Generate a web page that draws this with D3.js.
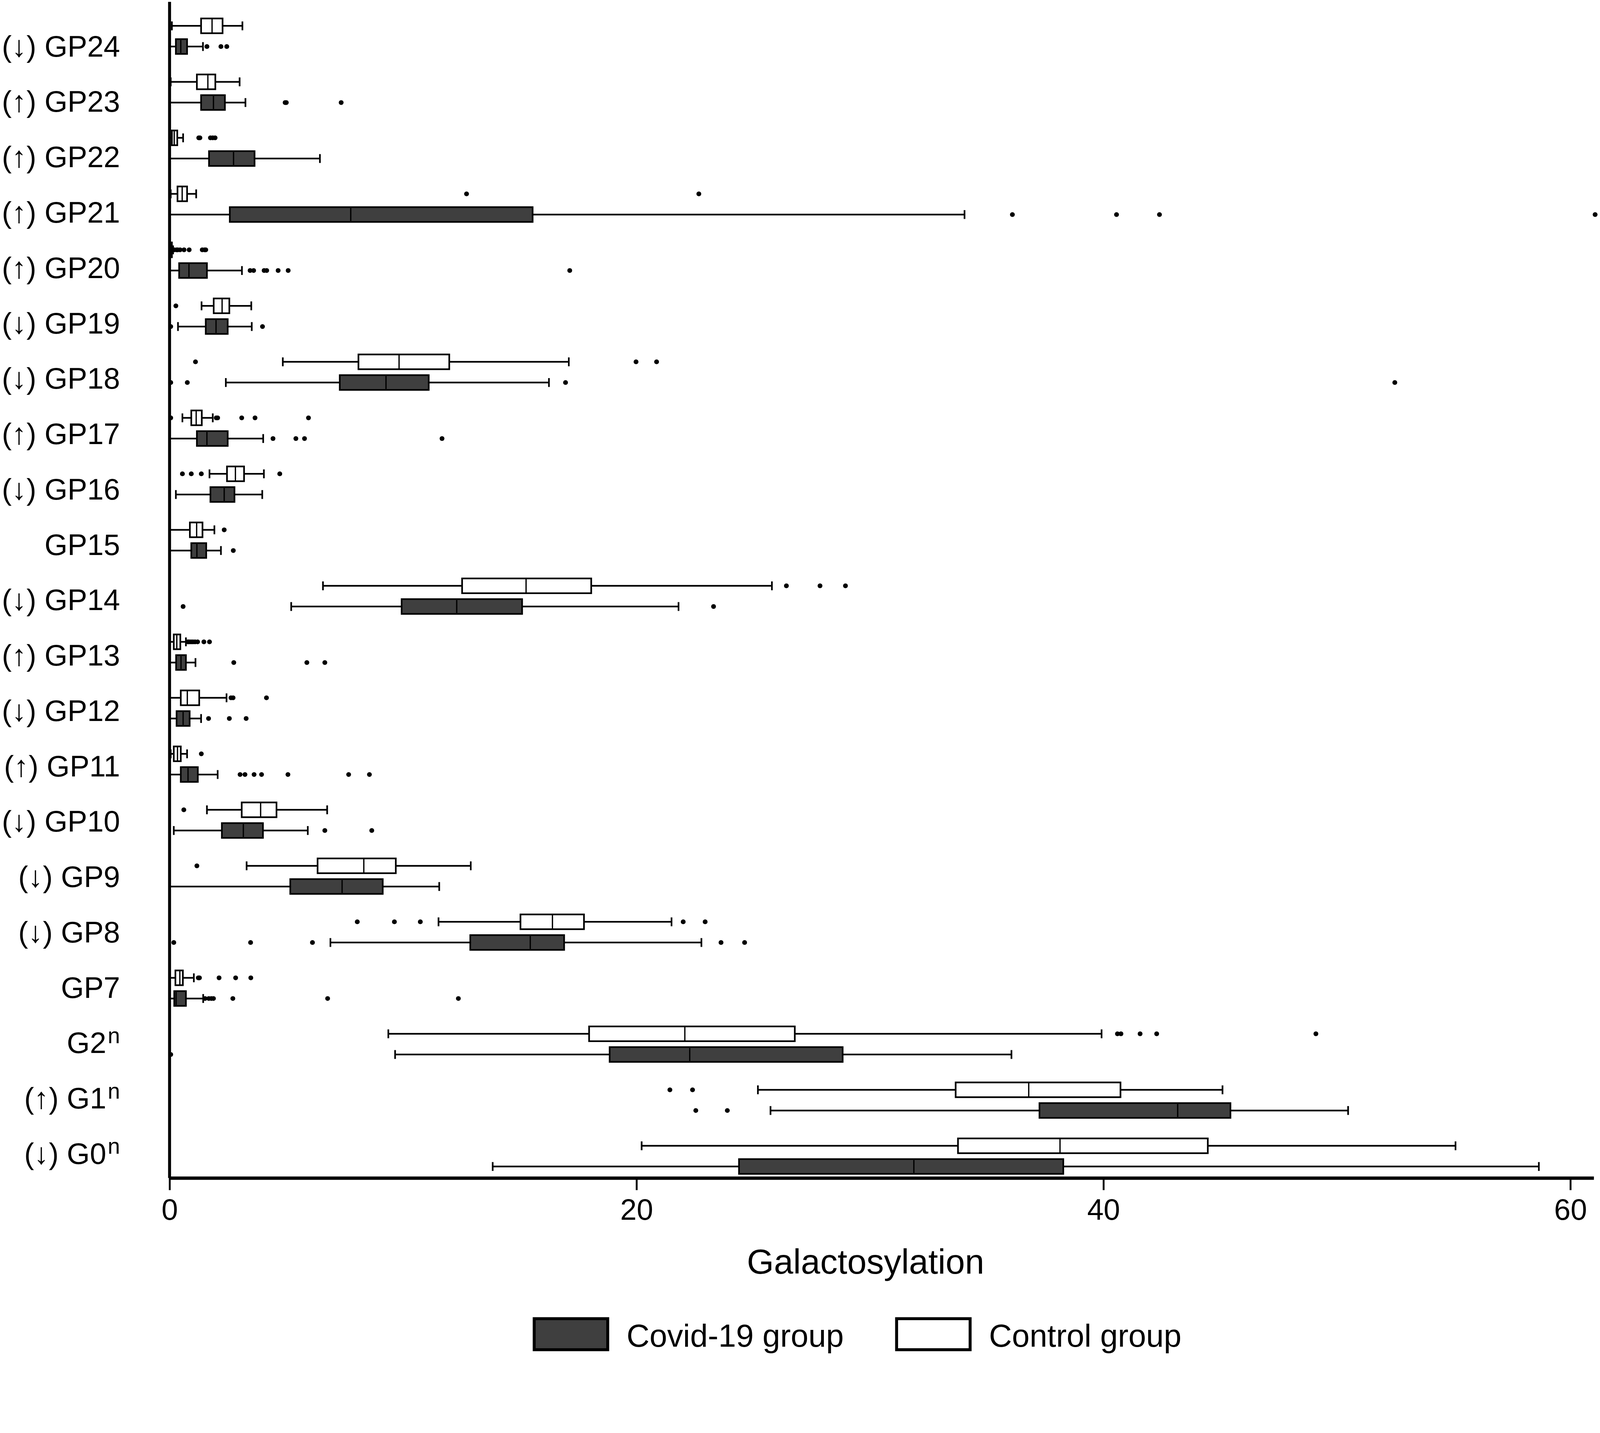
<!DOCTYPE html>
<html>
<head>
<meta charset="utf-8">
<script src="https://cdn.jsdelivr.net/npm/d3@7"></script>
<style>
  html, body { margin: 0; padding: 0; background: #fff; overflow: hidden; }
  text { font-family: "Liberation Sans", Arial, sans-serif; fill: #000; }
</style>
</head>
<body>
<div id="chart"></div>
<script>
// rows top to bottom
const categories = ["GP24","GP23","GP22","GP21","GP20","GP19","GP18","GP17","GP16","GP15","GP14",
  "GP13","GP12","GP11","GP10","GP9","GP8","GP7","G2n","G1n","G0n"];
const arrows = ["↓","↑","↑","↑","↑","↓","↓","↑","↓","","↓","↑","↓","↑","↓","↓","↓","","","↑","↓"];

// control group: lower whisker, q1, median, q3, upper whisker, outliers
const ctrlLo  = [0.1, 0.05, 0, 0.05, 0, 1.37, 4.85, 0.55, 1.71, 0, 6.57, 0, 0, 0.05, 1.6, 3.3, 11.52, 0, 9.37, 25.2, 20.22];
const ctrlQ1  = [1.35, 1.17, 0.1, 0.34, 0.02, 1.89, 8.09, 0.93, 2.46, 0.87, 12.53, 0.18, 0.48, 0.18, 3.09, 6.34, 15.03, 0.25, 17.97, 33.67, 33.77];
const ctrlMed = [1.82, 1.64, 0.2, 0.54, 0.05, 2.25, 9.83, 1.14, 2.82, 1.16, 15.27, 0.31, 0.76, 0.34, 3.9, 8.32, 16.4, 0.44, 22.07, 36.8, 38.14];
const ctrlQ3  = [2.27, 1.96, 0.33, 0.75, 0.1, 2.56, 11.98, 1.38, 3.19, 1.41, 18.06, 0.46, 1.27, 0.48, 4.58, 9.69, 17.75, 0.57, 26.78, 40.73, 44.47];
const ctrlHi  = [3.12, 3.0, 0.58, 1.14, 0.15, 3.5, 17.1, 1.85, 4.04, 1.92, 25.8, 0.7, 2.44, 0.75, 6.75, 12.9, 21.5, 1.04, 39.92, 45.1, 55.08];
const ctrlOut = [
  [], [], [1.25, 1.3, 1.75, 1.85, 1.95], [12.72, 22.67],
  [0.2, 0.3, 0.35, 0.45, 0.62, 0.84, 1.4, 1.5, 1.55], [0.27], [1.11, 19.98, 20.86],
  [0.05, 2.0, 2.06, 3.09, 3.66, 5.95], [0.55, 0.93, 1.36, 4.72], [2.34], [26.42, 27.86, 28.95],
  [0.78, 0.84, 0.92, 1.0, 1.09, 1.2, 1.47, 1.71], [2.63, 2.72, 4.15], [1.36], [0.61], [1.17],
  [8.04, 9.63, 10.74, 22.0, 22.94], [1.23, 1.28, 2.12, 2.83, 3.48],
  [40.6, 40.75, 41.57, 42.28, 49.1], [21.43, 22.4], []
];

// covid-19 group
const covLo  = [0, 0, 0, 0, 0, 0.36, 2.41, 0, 0.27, 0, 5.21, 0, 0, 0, 0.18, 0, 6.89, 0, 9.66, 25.74, 13.84];
const covQ1  = [0.27, 1.35, 1.69, 2.58, 0.41, 1.55, 7.29, 1.17, 1.75, 0.93, 9.94, 0.28, 0.3, 0.48, 2.24, 5.17, 12.88, 0.2, 18.85, 37.26, 24.39];
const covMed = [0.48, 1.88, 2.74, 7.76, 0.83, 1.99, 9.27, 1.6, 2.34, 1.17, 12.3, 0.49, 0.58, 0.79, 3.16, 7.39, 15.45, 0.28, 22.28, 43.18, 31.88];
const covQ3  = [0.75, 2.37, 3.64, 15.55, 1.6, 2.49, 11.1, 2.49, 2.78, 1.57, 15.1, 0.7, 0.86, 1.21, 4.0, 9.13, 16.9, 0.7, 28.83, 45.44, 38.28];
const covHi  = [1.43, 3.25, 6.44, 34.05, 3.1, 3.52, 16.25, 4.01, 3.97, 2.2, 21.8, 1.11, 1.35, 2.06, 5.92, 11.55, 22.78, 1.44, 36.06, 50.48, 58.65];
const covOut = [
  [1.6, 2.2, 2.45], [4.95, 5.0, 7.35], [], [36.1, 40.56, 42.4, 61.06],
  [3.45, 3.6, 4.05, 4.16, 4.65, 5.08, 17.14], [0.05, 3.98], [0.05, 0.76, 16.96, 52.48],
  [4.43, 5.41, 5.78, 11.67], [], [2.73], [0.58, 23.3],
  [2.75, 5.88, 6.65], [1.67, 2.56, 3.28], [3.02, 3.23, 3.62, 3.94, 5.07, 7.67, 8.56], [6.65, 8.66], [],
  [0.18, 3.47, 6.12, 23.62, 24.63], [1.52, 1.68, 1.79, 1.88, 2.71, 6.77, 12.37],
  [0.05], [22.54, 23.89], []
];

const xTicks = [0, 20, 40, 60];

const width = 4331, height = 3669;
const covFill = "#3f3f3f";

// viewBox so the whole figure always fits the window
const svg = d3.select("#chart").append("svg")
  .attr("viewBox", `0 0 ${width} ${height}`)
  .attr("preserveAspectRatio", "xMinYMin meet")
  .style("width", "100vw")
  .style("height", "100vh")
  .style("display", "block");

svg.append("rect").attr("width", width).attr("height", height).attr("fill", "#fff");

const x = d3.scaleLinear().domain([0, 61]).range([459, 4314]);
const rowY = d3.scalePoint().domain(categories).range([98, 3130]);
const labelY = d3.scalePoint().domain(categories).range([124, 3122]);
const boxH = 40, capH = 24, off = 28;

function series(lo, q1, med, q3, hi, out, dy, fill) {
  return categories.map((c, i) => ({
    cat: c, lo: lo[i], q1: q1[i], med: med[i], q3: q3[i], hi: hi[i], out: out[i],
    y: rowY(c) + dy, fill: fill
  }));
}

const rows = series(ctrlLo, ctrlQ1, ctrlMed, ctrlQ3, ctrlHi, ctrlOut, -off, "#fff")
  .concat(series(covLo, covQ1, covMed, covQ3, covHi, covOut, off, covFill));

const box = svg.append("g").selectAll("g.box").data(rows).join("g").attr("class", "box");

// whiskers with end caps
box.append("line")
  .attr("x1", d => x(d.lo)).attr("x2", d => x(d.hi))
  .attr("y1", d => d.y).attr("y2", d => d.y)
  .attr("stroke", "#000").attr("stroke-width", 4.5);
box.append("line")
  .attr("x1", d => x(d.lo)).attr("x2", d => x(d.lo))
  .attr("y1", d => d.y - capH / 2).attr("y2", d => d.y + capH / 2)
  .attr("stroke", "#000").attr("stroke-width", 4.5);
box.append("line")
  .attr("x1", d => x(d.hi)).attr("x2", d => x(d.hi))
  .attr("y1", d => d.y - capH / 2).attr("y2", d => d.y + capH / 2)
  .attr("stroke", "#000").attr("stroke-width", 4.5);

// boxes + median
box.append("rect")
  .attr("x", d => x(d.q1))
  .attr("y", d => d.y - boxH / 2)
  .attr("width", d => x(d.q3) - x(d.q1))
  .attr("height", boxH)
  .attr("fill", d => d.fill)
  .attr("stroke", "#000").attr("stroke-width", 4.5);
box.append("line")
  .attr("x1", d => x(d.med)).attr("x2", d => x(d.med))
  .attr("y1", d => d.y - boxH / 2).attr("y2", d => d.y + boxH / 2)
  .attr("stroke", "#000").attr("stroke-width", 3.5);

// outliers
box.selectAll("circle")
  .data(d => d.out.map(v => ({ v: v, y: d.y })))
  .join("circle")
  .attr("cx", d => x(d.v))
  .attr("cy", d => d.y)
  .attr("r", 6.5)
  .attr("fill", "#000");

// y axis line
svg.append("line")
  .attr("x1", x(0)).attr("x2", x(0))
  .attr("y1", 5).attr("y2", 3189)
  .attr("stroke", "#000").attr("stroke-width", 8);

// x axis
const xAxis = svg.append("g")
  .attr("transform", "translate(0,3189)")
  .call(d3.axisBottom(x).tickValues(xTicks).tickSize(33).tickSizeOuter(0).tickPadding(23));
xAxis.select(".domain").attr("stroke", "#000").attr("stroke-width", 9);
xAxis.selectAll(".tick line").attr("stroke", "#000").attr("stroke-width", 5);
xAxis.selectAll(".tick text")
  .attr("font-size", 80)
  .attr("font-family", "Liberation Sans, Arial, sans-serif")
  .attr("fill", "#000");

svg.append("text")
  .attr("x", 2343).attr("y", 3448)
  .attr("text-anchor", "middle")
  .attr("font-size", 94)
  .text("Galactosylation");

// category labels
const labels = svg.selectAll("text.lab").data(categories).join("text")
  .attr("class", "lab")
  .attr("x", 325)
  .attr("y", d => labelY(d) + 29)
  .attr("text-anchor", "end")
  .attr("font-size", 80);
labels.append("tspan").text((d, i) => arrows[i] ? "(" + arrows[i] + ") " : "");
labels.append("tspan").text(d => d.endsWith("n") ? d.slice(0, -1) : d);
labels.filter(d => d.endsWith("n")).append("tspan")
  .attr("font-size", 60)
  .attr("dx", 4)
  .attr("dy", -27)
  .text("n");

// legend
const legend = [
  { label: "Covid-19 group", fill: covFill, x: 1446 },
  { label: "Control group", fill: "#fff", x: 2427 }
];
const lg = svg.selectAll("g.leg").data(legend).join("g").attr("class", "leg");
lg.append("rect")
  .attr("x", d => d.x).attr("y", 3570)
  .attr("width", 199).attr("height", 84)
  .attr("fill", d => d.fill)
  .attr("stroke", "#000").attr("stroke-width", 8);
lg.append("text")
  .attr("x", d => d.x + 250).attr("y", 3646)
  .attr("font-size", 86)
  .text(d => d.label);
</script>
</body>
</html>
